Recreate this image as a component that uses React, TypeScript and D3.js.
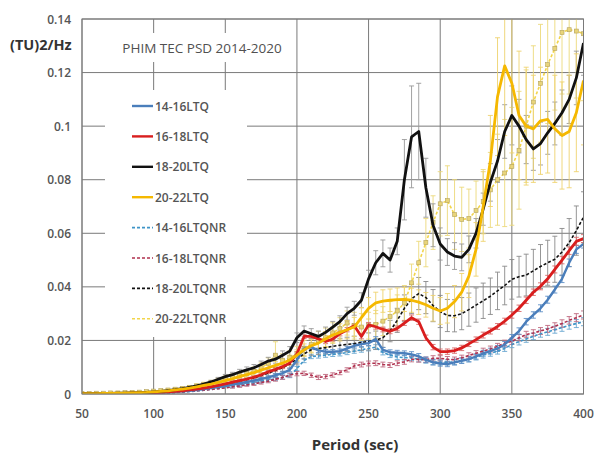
import React from "react";
import * as d3 from "d3";

const periods: number[] = d3.range(50, 401, 5);
const xTicks = [50, 100, 150, 200, 250, 300, 350, 400];
const yTicks = [0, 0.02, 0.04, 0.06, 0.08, 0.1, 0.12, 0.14];
const yTickLabels = ["0", "0.02", "0.04", "0.06", "0.08", "0.1", "0.12", "0.14"];
const seriesNames = ["14-16LTQ", "16-18LTQ", "18-20LTQ", "20-22LTQ", "14-16LTQNR", "16-18LTQNR", "18-20LTQNR", "20-22LTQNR"];

const ltq1416 = [
  0.0001, 0.0001, 0.0001, 0.0001, 0.0001, 0.0002, 0.0002, 0.0002, 0.0003, 0.0003,
  0.0004, 0.0005, 0.0006, 0.0008, 0.001, 0.0012, 0.0015, 0.0018, 0.0022, 0.0026,
  0.003, 0.0035, 0.004, 0.0045, 0.005, 0.0056, 0.0062, 0.007, 0.0078, 0.009,
  0.0127, 0.017, 0.0175, 0.0163, 0.0158, 0.0158, 0.016, 0.017, 0.018, 0.0186,
  0.019, 0.0205, 0.0165, 0.0156, 0.0154, 0.0152, 0.0148, 0.0141, 0.0128, 0.0118,
  0.0114, 0.0112, 0.0118, 0.0124, 0.013, 0.014, 0.0152, 0.016, 0.017, 0.0185,
  0.021, 0.0235, 0.027, 0.0295, 0.032, 0.0352, 0.039, 0.043, 0.049, 0.054,
  0.056,
];
const ltq1618 = [
  0.0001, 0.0001, 0.0001, 0.0001, 0.0002, 0.0002, 0.0002, 0.0003, 0.0003, 0.0004,
  0.0005, 0.0006, 0.0008, 0.001, 0.0012, 0.0015, 0.0018, 0.0022, 0.0027, 0.0032,
  0.0038, 0.0044, 0.005, 0.0056, 0.0063, 0.0072, 0.0083, 0.0092, 0.0102, 0.0116,
  0.015, 0.0215, 0.0215, 0.0206, 0.0196, 0.0205, 0.0225, 0.024, 0.0255, 0.0215,
  0.0258, 0.0251, 0.0241, 0.0234, 0.0245, 0.0265, 0.0285, 0.027, 0.021, 0.0175,
  0.0158, 0.0158, 0.0162, 0.0172, 0.0187, 0.0203, 0.022, 0.0235, 0.0252, 0.0272,
  0.0295, 0.032, 0.035, 0.038, 0.0402, 0.043, 0.0465, 0.05, 0.0535, 0.057,
  0.058,
];
const ltq1820 = [
  0.0001, 0.0001, 0.0001, 0.0002, 0.0002, 0.0003, 0.0003, 0.0004, 0.0005, 0.0006,
  0.0008, 0.001, 0.0013, 0.0016, 0.002, 0.0025, 0.003, 0.0037, 0.0045, 0.0055,
  0.0065, 0.0072, 0.0082, 0.009, 0.0098, 0.011, 0.0123, 0.013, 0.0145, 0.016,
  0.021, 0.0235, 0.0225, 0.0215, 0.023, 0.025, 0.027, 0.03, 0.032, 0.035,
  0.043, 0.049, 0.0525, 0.05, 0.057, 0.08, 0.096, 0.098, 0.077, 0.063,
  0.056, 0.053, 0.0515, 0.051, 0.054, 0.06, 0.069, 0.079, 0.087, 0.098,
  0.104, 0.1, 0.095, 0.0915, 0.0935, 0.0975, 0.101, 0.105, 0.11, 0.118,
  0.131,
];
const ltq2022 = [
  0.0001, 0.0001, 0.0001, 0.0002, 0.0002, 0.0003, 0.0003, 0.0004, 0.0005, 0.0006,
  0.0008, 0.001, 0.0012, 0.0015, 0.0018, 0.0022, 0.0027, 0.0032, 0.0037, 0.0043,
  0.005, 0.0057, 0.0065, 0.0072, 0.008, 0.0089, 0.0098, 0.0107, 0.0115, 0.0127,
  0.0145, 0.0165, 0.018, 0.019, 0.0205, 0.022, 0.023, 0.024, 0.025, 0.0285,
  0.032, 0.034, 0.0347, 0.035, 0.0352, 0.0353, 0.035, 0.0343, 0.0333, 0.032,
  0.031, 0.032, 0.0345, 0.038, 0.044, 0.054, 0.07, 0.087, 0.111, 0.1225,
  0.116, 0.104, 0.1, 0.099, 0.102, 0.1025, 0.099, 0.0965, 0.098, 0.105,
  0.117,
];
const nr1416 = [
  0.0001, 0.0001, 0.0001, 0.0001, 0.0001, 0.0001, 0.0001, 0.0002, 0.0002, 0.0002,
  0.0003, 0.0003, 0.0004, 0.0005, 0.0007, 0.0009, 0.0011, 0.0014, 0.0017, 0.002,
  0.0024, 0.0028, 0.0032, 0.0037, 0.0042, 0.0047, 0.0052, 0.0057, 0.0062, 0.0068,
  0.0095, 0.0125, 0.014, 0.0142, 0.0145, 0.0148, 0.015, 0.0155, 0.016, 0.0165,
  0.017, 0.0175, 0.0155, 0.0145, 0.0138, 0.0136, 0.0135, 0.013, 0.0125, 0.012,
  0.0118, 0.0118, 0.012, 0.0125, 0.013, 0.0137, 0.0145, 0.0152, 0.016, 0.017,
  0.0185, 0.0195, 0.0205, 0.0215, 0.0225, 0.0232, 0.024, 0.0248, 0.0256, 0.0263,
  0.027,
];
const nr1618 = [
  0.0001, 0.0001, 0.0001, 0.0001, 0.0001, 0.0001, 0.0002, 0.0002, 0.0002, 0.0003,
  0.0003, 0.0004, 0.0005, 0.0006, 0.0008, 0.001, 0.0012, 0.0014, 0.0017, 0.002,
  0.0023, 0.0027, 0.003, 0.0034, 0.0038, 0.0043, 0.0048, 0.0055, 0.0062, 0.0071,
  0.0076, 0.0077, 0.007, 0.0062, 0.0065, 0.0071, 0.008, 0.009, 0.0105, 0.011,
  0.0114, 0.0115, 0.011, 0.0108, 0.0115, 0.012, 0.013, 0.0129, 0.0128, 0.0133,
  0.0133, 0.013, 0.0128, 0.0135, 0.0144, 0.0152, 0.016, 0.0168, 0.0178, 0.019,
  0.0197, 0.021, 0.0222, 0.0228, 0.0235, 0.0243, 0.0253, 0.0263, 0.0275, 0.0285,
  0.0295,
];
const nr1820 = [
  0.0001, 0.0001, 0.0001, 0.0001, 0.0002, 0.0002, 0.0002, 0.0003, 0.0003, 0.0004,
  0.0005, 0.0006, 0.0008, 0.001, 0.0012, 0.0015, 0.0018, 0.0022, 0.0026, 0.0031,
  0.0036, 0.0042, 0.0048, 0.0054, 0.006, 0.0069, 0.0078, 0.0088, 0.0098, 0.0112,
  0.013, 0.015, 0.0165, 0.017, 0.0173, 0.0178, 0.0182, 0.0185, 0.0188, 0.0192,
  0.0196, 0.0201, 0.021, 0.0235, 0.0275, 0.032, 0.0355, 0.0375, 0.036, 0.033,
  0.0308, 0.0293, 0.0292, 0.03, 0.0315, 0.0332, 0.0348, 0.0365, 0.0385, 0.0405,
  0.0428, 0.0438, 0.0444, 0.046, 0.0476, 0.049, 0.0503, 0.053, 0.0565, 0.061,
  0.066,
];
const nr2022 = [
  0.0002, 0.0002, 0.0003, 0.0003, 0.0004, 0.0004, 0.0005, 0.0006, 0.0007, 0.0009,
  0.0011, 0.0013, 0.0015, 0.0018, 0.0021, 0.0025, 0.003, 0.0035, 0.0041, 0.0048,
  0.0055, 0.0061, 0.0068, 0.0076, 0.0085, 0.0098, 0.0115, 0.0145, 0.0125, 0.0135,
  0.015, 0.017, 0.0185, 0.02, 0.021, 0.0228, 0.0245, 0.0265, 0.0255, 0.025,
  0.0255, 0.026, 0.0272, 0.0289, 0.031, 0.034, 0.0415, 0.049, 0.0565, 0.064,
  0.071, 0.0722, 0.067, 0.0652, 0.0655, 0.0685, 0.0718, 0.0762, 0.08, 0.0825,
  0.085, 0.091, 0.1, 0.109, 0.116, 0.123, 0.129, 0.135, 0.136, 0.1355,
  0.1345,
];

// error bar half-widths
const errLow = [
  0, 0, 0, 0, 0, 0.0001, 0.0001, 0.0001, 0.0001, 0.0001,
  0.0001, 0.0002, 0.0002, 0.0002, 0.0002, 0.0003, 0.0003, 0.0003, 0.0004, 0.0004,
  0.0004, 0.0005, 0.0005, 0.0005, 0.0006, 0.0006, 0.0006, 0.0007, 0.0007, 0.0007,
  0.0008, 0.0008, 0.0008, 0.0008, 0.0008, 0.0008, 0.0008, 0.0008, 0.0008, 0.0009,
  0.0009, 0.0009, 0.0009, 0.0009, 0.0009, 0.0009, 0.001, 0.001, 0.001, 0.001,
  0.001, 0.001, 0.001, 0.001, 0.001, 0.001, 0.0011, 0.0011, 0.0011, 0.0011,
  0.0012, 0.0012, 0.0012, 0.0012, 0.0013, 0.0013, 0.0013, 0.0014, 0.0014, 0.0015,
  0.0015,
];
const err1820 = [
  0, 0, 0, 0, 0, 0.0001, 0.0001, 0.0001, 0.0001, 0.0001,
  0.0002, 0.0002, 0.0002, 0.0003, 0.0003, 0.0004, 0.0004, 0.0005, 0.0006, 0.0007,
  0.0008, 0.0009, 0.001, 0.0011, 0.0012, 0.0013, 0.0014, 0.0015, 0.0016, 0.0017,
  0.0018, 0.0019, 0.0019, 0.002, 0.002, 0.0021, 0.0022, 0.0024, 0.0026, 0.0028,
  0.0032, 0.0045, 0.005, 0.0045, 0.005, 0.015, 0.019, 0.018, 0.011, 0.008,
  0.006, 0.005, 0.005, 0.005, 0.005, 0.0055, 0.006, 0.007, 0.008, 0.01,
  0.011, 0.01, 0.009, 0.008, 0.008, 0.008, 0.008, 0.0085, 0.009, 0.01,
  0.012,
];
const err2022 = [
  0, 0, 0, 0, 0, 0.0001, 0.0001, 0.0001, 0.0001, 0.0001,
  0.0002, 0.0002, 0.0002, 0.0003, 0.0003, 0.0004, 0.0004, 0.0005, 0.0006, 0.0007,
  0.0008, 0.0009, 0.001, 0.0011, 0.0012, 0.0013, 0.0014, 0.0015, 0.0016, 0.0018,
  0.002, 0.0022, 0.0024, 0.0026, 0.0028, 0.003, 0.0032, 0.0034, 0.0036, 0.0038,
  0.004, 0.004, 0.0042, 0.0042, 0.0044, 0.0045, 0.0045, 0.0046, 0.0046, 0.0048,
  0.005, 0.0055, 0.006, 0.007, 0.008, 0.01, 0.013, 0.017, 0.022, 0.026,
  0.026, 0.024, 0.022, 0.02, 0.02, 0.02, 0.02, 0.02, 0.021, 0.022,
  0.024,
];
const errNr1820 = [
  0, 0, 0, 0, 0, 0.0001, 0.0001, 0.0001, 0.0001, 0.0001,
  0.0002, 0.0002, 0.0002, 0.0003, 0.0003, 0.0003, 0.0004, 0.0004, 0.0005, 0.0005,
  0.0006, 0.0007, 0.0008, 0.0009, 0.001, 0.0011, 0.0012, 0.0013, 0.0014, 0.0016,
  0.0018, 0.002, 0.0022, 0.0023, 0.0024, 0.0025, 0.0026, 0.0027, 0.0028, 0.003,
  0.0032, 0.0034, 0.0036, 0.004, 0.0045, 0.005, 0.0055, 0.006, 0.006, 0.006,
  0.006, 0.006, 0.006, 0.006, 0.0062, 0.0064, 0.0066, 0.0068, 0.007, 0.0072,
  0.0074, 0.0076, 0.0078, 0.008, 0.0082, 0.0084, 0.0086, 0.0088, 0.009, 0.0092,
  0.0095,
];
const errNr2022 = [
  0.0001, 0.0001, 0.0001, 0.0001, 0.0002, 0.0002, 0.0002, 0.0002, 0.0003, 0.0003,
  0.0004, 0.0004, 0.0005, 0.0005, 0.0006, 0.0007, 0.0008, 0.0009, 0.001, 0.0011,
  0.0012, 0.0013, 0.0014, 0.0015, 0.0016, 0.0018, 0.002, 0.005, 0.0025, 0.0026,
  0.0028, 0.003, 0.0032, 0.0034, 0.0036, 0.0038, 0.004, 0.0045, 0.005, 0.005,
  0.005, 0.0052, 0.0054, 0.0056, 0.006, 0.0065, 0.007, 0.008, 0.009, 0.01,
  0.012, 0.013, 0.013, 0.012, 0.011, 0.011, 0.012, 0.014, 0.017, 0.02,
  0.022, 0.022, 0.021, 0.021, 0.022, 0.022, 0.023, 0.023, 0.024, 0.025,
  0.025,
];

type S = { name: string; values: number[]; err: number[]; color: string; width: number; dash?: string; errColor: string; marker?: boolean };

const series: S[] = [
  { name: seriesNames[4], values: nr1416, err: errLow, color: "#3f95c8", width: 1.6, dash: "3,2", errColor: "#6aa7d0" },
  { name: seriesNames[5], values: nr1618, err: errLow, color: "#b0304e", width: 1.6, dash: "3,2", errColor: "#c06a80" },
  { name: seriesNames[6], values: nr1820, err: errNr1820, color: "#111111", width: 1.6, dash: "3,2", errColor: "#8a8a8a" },
  { name: seriesNames[7], values: nr2022, err: errNr2022, color: "#f2d54a", width: 1.6, dash: "3,2", errColor: "#ecd97a", marker: true },
  { name: seriesNames[0], values: ltq1416, err: errLow, color: "#4a7ebb", width: 2.4, errColor: "#5f8fc6" },
  { name: seriesNames[1], values: ltq1618, err: errLow, color: "#d91e1e", width: 2.8, errColor: "#d86a6a" },
  { name: seriesNames[2], values: ltq1820, err: err1820, color: "#111111", width: 2.8, errColor: "#999999" },
  { name: seriesNames[3], values: ltq2022, err: err2022, color: "#f5b800", width: 2.8, errColor: "#eed36e" },
];

const legendOrder = [4, 5, 6, 7, 0, 1, 2, 3];

const W = 594, H = 453;
const x = d3.scaleLinear().domain([50, 400]).range([82, 583.5]);
const y = d3.scaleLinear().domain([0, 0.14]).range([394, 19]);
const font = "'Open Sans', 'Liberation Sans', sans-serif";

export default function App() {
  const line = d3.line<number>().x((_, i) => x(periods[i])).y((d) => y(d));
  const [x0, x1] = x.range();
  const [yb, yt] = y.range();
  return (
    <div style={{ position: "absolute", left: 0, top: 0 }}>
      <svg width={W} height={H} style={{ display: "block", background: "#fff" }}>
        <defs>
          <clipPath id="plot">
            <rect x={x0} y={yt} width={x1 - x0} height={yb - yt} />
          </clipPath>
        </defs>
        {yTicks.map((t) => (
          <line key={"gy" + t} x1={x0} x2={x1} y1={y(t)} y2={y(t)} stroke="#7a7a7a" strokeWidth={1} />
        ))}
        {xTicks.map((t) => (
          <line key={"gx" + t} x1={x(t)} x2={x(t)} y1={yt} y2={yb} stroke="#7a7a7a" strokeWidth={1} />
        ))}
        <rect x={116} y={33} width={172} height={29} fill="#fff" />
        <rect x={105} y={90} width={142} height={247} fill="#fff" />
        <text x={202} y={53} textAnchor="middle" fontFamily={font} fontSize={13.5} fill="#505050">
          PHIM TEC PSD 2014-2020
        </text>
        <g clipPath="url(#plot)">
          {series.map((s) => (
            <g key={"e" + s.name} stroke={s.errColor} strokeWidth={0.9}>
              {s.values.map((v, i) =>
                s.err[i] > 0.0004 ? (
                  <g key={i}>
                    <line x1={x(periods[i])} x2={x(periods[i])} y1={y(v - s.err[i])} y2={y(v + s.err[i])} />
                    <line x1={x(periods[i]) - 2.5} x2={x(periods[i]) + 2.5} y1={y(v - s.err[i])} y2={y(v - s.err[i])} />
                    <line x1={x(periods[i]) - 2.5} x2={x(periods[i]) + 2.5} y1={y(v + s.err[i])} y2={y(v + s.err[i])} />
                  </g>
                ) : null
              )}
            </g>
          ))}
          {series.map((s) => (
            <g key={"l" + s.name}>
              <path d={line(s.values) || ""} fill="none" stroke={s.color} strokeWidth={s.width} strokeDasharray={s.dash} strokeLinejoin="round" />
              {s.marker &&
                s.values.map((v, i) => (
                  <rect key={i} x={x(periods[i]) - 2} y={y(v) - 2} width={4} height={4} fill="#e8d47a" stroke="#b4a25c" strokeWidth={0.6} />
                ))}
            </g>
          ))}
        </g>
        <rect x={x0} y={yt} width={x1 - x0} height={yb - yt} fill="none" stroke="#7a7a7a" strokeWidth={1} />
        {yTicks.map((t, i) => (
          <text key={"yl" + t} x={71} y={y(t) + 4.5} textAnchor="end" fontFamily={font} fontWeight={600} fontSize={12} fill="#555">
            {yTickLabels[i]}
          </text>
        ))}
        {xTicks.map((t) => (
          <text key={"xl" + t} x={x(t)} y={418} textAnchor="middle" fontFamily={font} fontWeight={600} fontSize={12} fill="#555">
            {t}
          </text>
        ))}
        <text x={10} y={50} fontFamily={font} fontWeight={700} fontSize={14.5} fill="#333">
          (TU)2/Hz
        </text>
        <text x={355} y={450} textAnchor="middle" fontFamily={font} fontWeight={700} fontSize={15} fill="#333">
          Period (sec)
        </text>
        {legendOrder.map((si, k) => {
          const s = series[si];
          const ly = 106 + k * 30.4;
          return (
            <g key={"lg" + s.name}>
              <line x1={132} x2={153} y1={ly} y2={ly} stroke={s.color} strokeWidth={s.dash ? 1.6 : 2.4} strokeDasharray={s.dash} />
              <text x={155} y={ly + 4.5} fontFamily={font} fontWeight={600} fontSize={12} fill="#555">
                {s.name}
              </text>
            </g>
          );
        })}
      </svg>
    </div>
  );
}
